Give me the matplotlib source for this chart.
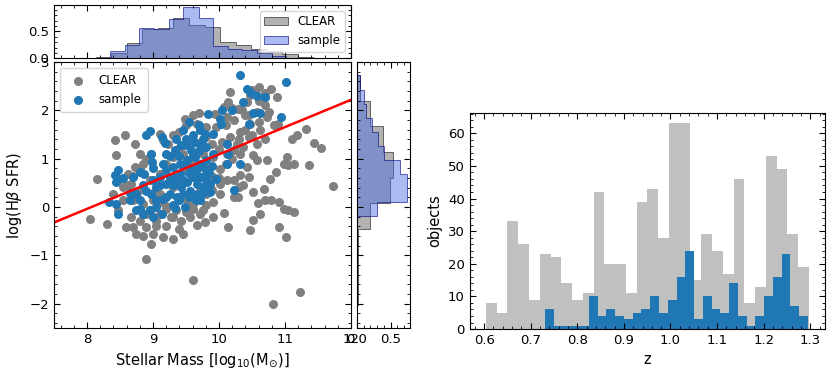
import numpy as np
import matplotlib
matplotlib.use("Agg")
import matplotlib.pyplot as plt
from matplotlib.colors import to_rgba

# --- scatter: stellar mass vs log(Hbeta SFR) ---
clear_mass = [8.04, 8.15, 8.30, 8.42, 8.44, 8.58, 8.72, 8.59, 8.75, 8.90, 8.97, 9.15, 9.30, 9.61,
              10.82, 11.22, 11.72, 11.54, 11.44, 11.36, 11.31, 11.13, 11.01, 10.91, 10.47, 10.51,
              10.14, 10.07, 10.22, 10.29, 10.62, 10.59, 10.69, 10.79, 10.91, 10.98, 11.04, 10.51,
              10.68, 10.77, 10.87, 10.73, 11.03, 11.04, 11.13, 11.11, 11.18, 10.83, 10.89, 10.73,
              10.58, 10.42, 10.60, 10.78, 10.88, 10.47, 10.17, 10.29, 9.96, 9.48, 9.30, 9.15,
              8.97, 8.85, 10.52, 10.42, 10.32, 10.45, 10.22, 10.12, 10.02, 10.02, 9.91, 9.71,
              9.66, 9.43, 9.28, 9.05, 8.90, 8.80, 8.67, 8.47, 8.39, 8.54, 8.62, 8.72, 8.80,
              9.10, 9.23, 9.41, 9.63, 9.81, 9.94, 10.12, 10.22, 10.32, 10.45, 10.57, 10.47,
              10.62, 10.70, 10.22, 10.12, 10.32, 9.61, 9.81, 9.91, 9.71, 9.51, 9.20, 9.00,
              8.85, 8.77, 8.95, 9.10, 9.20, 9.30, 9.46, 9.10, 9.30, 9.40, 9.51, 9.76, 9.81,
              9.61, 9.35, 8.95, 8.70, 9.81, 9.66, 10.04, 10.17, 10.27, 10.37, 10.98, 10.40,
              10.14, 10.07, 10.50, 10.69, 10.76, 10.37, 10.30, 10.02, 10.57, 9.91, 9.76, 9.56,
              9.10, 8.70, 8.90, 8.54, 8.49, 8.67, 9.91, 9.78,
              9.00, 9.10, 9.20, 9.30, 9.50, 9.60, 9.80, 9.90, 10.00, 10.10, 10.20, 10.30,
              10.40, 10.50, 10.60, 10.00, 9.90, 8.90, 8.80, 8.70, 8.60, 9.40, 9.50, 9.60,
              9.70, 10.10, 10.20, 10.35, 10.45, 10.60, 10.70, 10.55, 9.05, 9.20, 9.40, 9.00,
              8.85, 9.45]
clear_sfr = [-0.24, 0.57, -0.36, 1.39, 1.07, 1.48, 1.31, -0.41, -0.55, -1.07, -0.76, -0.62, -0.66, -1.50,
             -2.01, -1.76, 0.43, 1.23, 1.32, 0.86, 1.62, -0.10, -0.62, -0.41, -0.48, -0.26,
             -0.41, -0.12, 0.21, 0.21, -0.15, 0.08, 0.14, 0.14, 0.10, -0.03, -0.06, 0.31,
             0.38, 0.59, 0.72, 0.98, 1.03, 0.86, 0.90, 1.41, 1.48, 1.69, 1.72, 1.86,
             1.97, 2.17, 2.48, 2.45, 2.28, 2.31, 2.38, 2.03, 1.66, 1.83, 1.48, 1.38,
             1.10, 0.90, 1.07, 0.83, 0.66, 0.62, 0.55, 0.55, 0.48, 0.28, 0.10, -0.14,
             -0.38, -0.28, -0.21, -0.28, -0.41, -0.28, -0.21, -0.07, 0.28, 0.41, 0.69, 0.83, 1.10,
             1.52, 1.31, 1.24, 1.34, 1.45, 1.93, 1.86, 1.79, 1.55, 1.45, 1.31, 1.72,
             1.59, 1.41, 1.17, 1.10, 1.10, 0.90, 0.79, 0.62, 0.41, 0.14, 0.03, 0.14,
             0.07, 0.34, 0.55, 0.69, 0.90, 1.03, 1.10, 0.28, 0.41, 0.55, 0.76, 1.10, 0.28,
             0.07, -0.07, -0.07, 0.14, 1.66, 1.72, 1.34, 1.45, 1.31, 1.24, 0.90, 1.90,
             2.17, 2.07, 2.43, 2.10, 1.97, 0.45, 0.41, 0.79, 0.97, 1.03, -0.07, -0.21,
             -0.14, -0.41, -0.14, 0.14, 0.59, 0.48, -0.21, -0.31,
             0.30, 0.10, -0.05, -0.20, -0.10, -0.05, 0.05, 0.35, 0.60, 0.90, 1.00, 1.40,
             1.60, 1.50, 1.75, 1.20, 1.30, 1.00, 0.80, 0.65, 0.45, 1.55, 1.70, 1.90,
             1.95, 1.70, 2.05, 2.00, 1.90, 2.20, 2.35, 2.40, -0.40, -0.40, -0.45, -0.55,
             -0.60, -0.55]

sample_mass = [10.32, 11.01, 10.42, 10.48, 10.57, 10.69, 10.37, 10.51, 10.62, 10.94, 10.45, 10.19,
               10.04, 10.02, 10.03, 9.84, 9.79, 9.71, 9.91, 9.55, 9.69, 9.61, 9.50, 9.43, 9.33,
               9.18, 9.13, 8.90, 8.96, 8.97, 8.99, 9.20, 10.12, 10.14, 10.12, 10.32, 10.22, 9.86,
               9.96, 9.81, 9.71, 9.63, 9.51, 8.42, 8.47, 8.44, 8.44, 8.34, 8.47, 8.70, 8.80, 8.87,
               8.75, 8.85, 8.95, 9.05, 9.13, 9.33, 9.48, 9.71, 9.86, 9.76, 9.66, 9.56, 9.46, 9.36,
               9.25, 9.15, 9.05, 8.97, 8.90, 9.05, 9.20, 9.30, 9.41, 9.51, 9.61, 9.71, 9.76, 9.61,
               9.41, 9.20, 9.10, 9.00, 8.85, 8.75, 8.65, 8.80, 9.30, 9.43, 9.66, 9.81, 9.91, 9.50,
               9.71, 9.81, 9.58, 9.30,
               9.25, 9.35, 9.45, 9.55, 9.65, 9.50, 9.40, 9.60, 9.70, 9.80, 9.20, 9.10, 9.30, 9.40,
               9.55, 9.65, 9.75, 9.85, 9.00, 9.15, 9.35, 9.45, 9.62, 9.75, 9.90, 9.00, 8.80, 8.65,
               8.55, 9.25]
sample_sfr = [2.72, 2.59, 2.45, 2.36, 2.29, 2.28, 2.17, 1.94, 1.94, 1.86, 1.72, 2.00,
              2.00, 1.83, 1.72, 1.92, 1.52, 1.59, 1.52, 1.76, 1.69, 1.48, 1.41, 1.28, 1.17,
              1.32, 1.45, 1.48, 1.57, 1.10, 0.93, 1.10, 1.31, 1.10, 0.90, 0.90, 0.36, 0.31,
              0.59, 0.69, 0.90, 1.03, 0.97, 0.66, 0.76, 0.52, 0.07, 0.10, -0.14, 0.62, 0.72, 0.69,
              -0.07, -0.14, -0.07, 0.00, -0.14, -0.01, 0.01, 0.14, 0.48, 0.41, 0.28, 0.34, 0.28, 0.21,
              0.28, 0.17, 0.14, 0.28, 0.34, 0.41, 0.48, 0.62, 0.69, 0.52, 0.62, 0.62, 0.83, 0.79,
              0.90, 0.76, 0.62, 0.55, 0.45, 0.28, 0.14, 0.14, 0.45, 0.41, 0.48, 0.97, 1.10, 1.28,
              1.28, 1.24, 1.17, 0.83,
              0.60, 0.50, 0.55, 0.70, 0.75, 0.90, 1.05, 1.05, 1.15, 0.55, 0.20, 0.45, 0.05, 0.15,
              0.20, 0.15, 0.30, 0.70, 0.80, 0.90, 1.40, 1.60, 1.35, 1.40, 0.85, -0.20, -0.05, 0.30,
              0.60, 1.05]

fit_slope = 0.564
fit_intercept = -4.55

# --- marginal density histograms (bin edges and heights) ---
mass_edges_clear = [7.90, 8.135, 8.37, 8.605, 8.84, 9.075, 9.31, 9.545, 9.78, 10.015, 10.25,
                    10.485, 10.72, 10.955, 11.19, 11.425, 11.66, 11.895]
mass_dens_clear = [0.01, 0.02, 0.10, 0.28, 0.55, 0.57, 0.75, 0.62, 0.58, 0.30, 0.25,
                   0.17, 0.14, 0.07, 0.03, 0.01, 0.01]
mass_edges_sample = [8.35, 8.57, 8.79, 9.02, 9.24, 9.46, 9.69, 9.91, 10.13, 10.35, 10.58, 10.80, 11.02]
mass_dens_sample = [0.13, 0.24, 0.57, 0.55, 0.73, 0.95, 0.75, 0.22, 0.17, 0.15, 0.09, 0.04]

sfr_edges_clear = [-2.03, -1.50, -0.97, -0.45, 0.08, 0.61, 1.14, 1.67, 2.19, 2.72]
sfr_dens_clear = [0.01, 0.01, 0.02, 0.20, 0.49, 0.54, 0.38, 0.20, 0.05]
sfr_edges_sample = [-0.19, 0.10, 0.39, 0.68, 0.97, 1.26, 1.55, 1.84, 2.14, 2.43, 2.72]
sfr_dens_sample = [0.30, 0.75, 0.74, 0.64, 0.40, 0.32, 0.22, 0.13, 0.10, 0.05]

# --- redshift histograms (30 bins each) ---
z_range_clear = (0.604, 1.297)
z_counts_clear = [8, 5, 33, 26, 9, 23, 22, 14, 9, 11, 42, 20, 20, 11, 39,
                  43, 28, 63, 63, 15, 29, 24, 17, 46, 8, 13, 53, 49, 29, 19]
z_range_sample = (0.731, 1.295)
z_counts_sample = [6, 1, 1, 1, 1, 10, 4, 6, 4, 3, 5, 6, 10, 5, 9,
                   16, 24, 3, 10, 6, 5, 14, 4, 1, 4, 10, 16, 23, 7, 4]

gray_face = to_rgba("gray", 0.6)
gray_edge = to_rgba("k", 0.55)
blue_face = to_rgba("royalblue", 0.45)
blue_edge = to_rgba("navy", 0.6)


def style(a):
    a.minorticks_on()
    a.tick_params(which="both", direction="in", top=True, right=True, labelsize=9.5)
    a.tick_params(which="major", length=4)
    a.tick_params(which="minor", length=2)


fig = plt.figure(figsize=(8.3, 3.71), dpi=100)
ax = fig.add_axes([0.065, 0.116, 0.358, 0.717])
axt = fig.add_axes([0.065, 0.843, 0.358, 0.144], sharex=ax)
axr = fig.add_axes([0.430, 0.116, 0.064, 0.717], sharey=ax)
axz = fig.add_axes([0.566, 0.113, 0.428, 0.582])

# scatter
ax.scatter(clear_mass, clear_sfr, s=30, color="gray", label="CLEAR")
ax.scatter(sample_mass, sample_sfr, s=30, color="tab:blue", label="sample")
ax.axline((0, fit_intercept), slope=fit_slope, color="red", lw=1.8)
ax.set_xlim(7.5, 12)
ax.set_ylim(-2.5, 3)
ax.set_xlabel(r"Stellar Mass [log$_{10}$(M$_{\odot}$)]", fontsize=10.5)
ax.set_ylabel(r"log(H$\beta$ SFR)", fontsize=10.5)
ax.legend(loc="upper left", fontsize=8.5, handletextpad=0.8, borderpad=0.5)
style(ax)

# top marginal
axt.stairs(mass_dens_clear, mass_edges_clear, fill=True, facecolor=gray_face,
           edgecolor=gray_edge, lw=0.7, label="CLEAR")
axt.stairs(mass_dens_sample, mass_edges_sample, fill=True, facecolor=blue_face,
           edgecolor=blue_edge, lw=0.7, label="sample")
axt.legend(loc="upper right", fontsize=8.5)
style(axt)
axt.tick_params(labelbottom=False)

# right marginal
axr.stairs(sfr_dens_clear, sfr_edges_clear, orientation="horizontal", fill=True,
           facecolor=gray_face, edgecolor=gray_edge, lw=0.7)
axr.stairs(sfr_dens_sample, sfr_edges_sample, orientation="horizontal", fill=True,
           facecolor=blue_face, edgecolor=blue_edge, lw=0.7)
style(axr)
axr.tick_params(labelleft=False)

# redshift distribution
ze_c = np.linspace(z_range_clear[0], z_range_clear[1], len(z_counts_clear) + 1)
ze_s = np.linspace(z_range_sample[0], z_range_sample[1], len(z_counts_sample) + 1)
axz.bar(ze_c[:-1], z_counts_clear, width=np.diff(ze_c), align="edge", color="silver")
axz.bar(ze_s[:-1], z_counts_sample, width=np.diff(ze_s), align="edge", color="tab:blue")
axz.set_xlabel("z", fontsize=10.5)
axz.set_ylabel("objects", fontsize=10.5)
style(axz)

fig.savefig("out.png", dpi=100)
